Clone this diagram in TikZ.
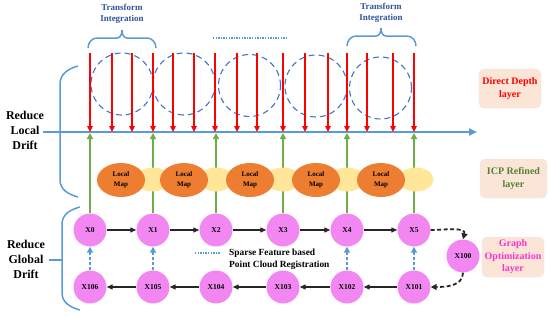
\documentclass[tikz,border=0pt]{standalone}
\usepackage{fontspec}
\setmainfont{Liberation Serif}
\usetikzlibrary{arrows.meta,shapes.geometric,calc}
\definecolor{bluel}{RGB}{91,155,213}
\definecolor{bluec}{RGB}{68,114,196}
\definecolor{titleblue}{RGB}{47,85,151}
\definecolor{redl}{RGB}{255,0,0}
\definecolor{greenl}{RGB}{112,173,71}
\definecolor{orangem}{RGB}{237,125,49}
\definecolor{yellowm}{RGB}{255,230,153}
\definecolor{nodepink}{RGB}{242,135,242}
\definecolor{boxfill}{RGB}{251,229,214}
\definecolor{icpgreen}{RGB}{84,130,53}
\definecolor{graphpink}{RGB}{255,51,204}
\tikzset{
  axisline/.style={draw=bluel,line width=2pt,-{Triangle[length=8pt,width=7pt]}},
  redarr/.style={draw=redl,line width=1.5pt,-{Triangle[length=6pt,width=5.5pt]}},
  greenarr/.style={draw=greenl,line width=2pt,-{Triangle[length=6pt,width=6pt]}},
  dcirc/.style={circle,draw=bluec,line width=1.1pt,dash pattern=on 6pt off 4pt,minimum size=62pt,inner sep=0pt},
  ybub/.style={ellipse,fill=yellowm,minimum width=35pt,minimum height=24pt,inner sep=0pt},
  lmap/.style={ellipse,fill=orangem,minimum width=48pt,minimum height=34pt,inner sep=0pt,align=center,font=\fontsize{7}{10}\selectfont\bfseries},
  xnode/.style={circle,fill=nodepink,minimum size=33pt,inner sep=0pt,font=\fontsize{7.5}{9}\selectfont\bfseries},
  blk/.style={draw=black!85,line width=1.3pt,-{Triangle[length=6pt,width=5pt]}},
  dblk/.style={draw=black!85,line width=1.8pt,dash pattern=on 4pt off 2.5pt,-{Triangle[length=6pt,width=6pt]}},
  bdash/.style={draw=bluel,line width=1.5pt,dash pattern=on 3pt off 2pt,-{Triangle[length=6pt,width=6pt]}},
  bracket/.style={draw=bluel,line width=1.5pt},
  layerbox/.style={rectangle,rounded corners=5pt,fill=boxfill,draw=black!8,align=center,inner sep=0pt,font=\fontsize{10}{12.5}\selectfont\bfseries},
  sidetext/.style={align=center,font=\fontsize{12}{15}\selectfont\bfseries},
  titletext/.style={align=center,text=titleblue,font=\fontsize{9}{11}\selectfont\bfseries},
}
\begin{document}
\begin{tikzpicture}[x=1pt,y=-1pt]
\useasboundingbox (0,0) rectangle (550,316);

% top titles and braces
\node[titletext] (t1) at (122,14) {Transform\\Integration};
\node[titletext] (t2) at (381,12.5) {Transform\\Integration};
\draw[bracket] (88,48) to[out=90,in=180] (97,38) -- (117,38) to[out=0,in=-90] (122,30)
               to[out=-90,in=180] (127,38) -- (147,38) to[out=0,in=90] (156,48);
\draw[bracket] (347,46) to[out=90,in=180] (356,36) -- (376,36) to[out=0,in=-90] (381,28)
               to[out=-90,in=180] (386,36) -- (407,36) to[out=0,in=90] (416,46);
\coordinate (dl1) at (213,38);
\coordinate (dl2) at (288,38);
\draw[draw=bluel,line width=1.3pt,dash pattern=on 1.3pt off 1.3pt] (dl1) -- (dl2);

% dashed circles
\node[dcirc] (c1) at (122,84) {};
\node[dcirc] (c2) at (184,84) {};
\node[dcirc] (c3) at (249.5,85.5) {};
\node[dcirc] (c4) at (316,86) {};
\node[dcirc] (c5) at (380.5,88) {};

% axis
\coordinate (axL) at (43,132);
\coordinate (axR) at (477,132);
\draw[axisline] (axL) -- (axR);

% red arrows
\foreach \x [count=\i] in {90,112,132,153,173,194,215,237,257,283,305,328,347,367,393,414} {
  \coordinate (rt\i) at (\x,53);
  \coordinate (rb\i) at (\x,132);
  \draw[redarr] (rt\i) -- (rb\i);
}

% X nodes
\node[xnode] (X0) at (90,230) {X0};
\node[xnode] (X1) at (153,230) {X1};
\node[xnode] (X2) at (216,230) {X2};
\node[xnode] (X3) at (283,230) {X3};
\node[xnode] (X4) at (347,230) {X4};
\node[xnode] (X5) at (414,230) {X5};
\node[xnode] (X106) at (90,287) {X106};
\node[xnode] (X105) at (153,287) {X105};
\node[xnode] (X104) at (216,287) {X104};
\node[xnode] (X103) at (283,287) {X103};
\node[xnode] (X102) at (347,287) {X102};
\node[xnode] (X101) at (414,287) {X101};
\node[xnode] (X100) at (463,256) {X100};

% green arrows
\foreach \n in {X0,X1,X2,X3,X4,X5} {
  \coordinate (g\n) at ($(\n.north)+(0,-0.5)$);
  \coordinate (ga\n) at (g\n |- axL);
  \draw[greenarr] (g\n) -- ($(ga\n)+(0,1)$);
}

% yellow and orange ellipses
\node[ybub] (y1) at (153,179.5) {};
\node[ybub] (y2) at (216,179.5) {};
\node[ybub] (y3) at (283,179.5) {};
\node[ybub] (y4) at (347,179.5) {};
\node[ybub] (y5) at (416,179.5) {};
\node[lmap] (m1) at (121,180) {Local\\Map};
\node[lmap] (m2) at (184,180) {Local\\Map};
\node[lmap] (m3) at (250,180) {Local\\Map};
\node[lmap] (m4) at (316,180) {Local\\Map};
\node[lmap] (m5) at (381,180) {Local\\Map};

% graph edges
\draw[blk] (X0) -- (X1);
\draw[blk] (X1) -- (X2);
\draw[blk] (X2) -- (X3);
\draw[blk] (X3) -- (X4);
\draw[blk] (X4) -- (X5);
\draw[blk] (X101) -- (X102);
\draw[blk] (X102) -- (X103);
\draw[blk] (X103) -- (X104);
\draw[blk] (X104) -- (X105);
\draw[blk] (X105) -- (X106);
\draw[dblk] (X5.east) to[out=0,in=75] (X100.north);
\draw[dblk] (X100.south) to[out=-90,in=0] (X101.east);
\draw[bdash] (X106) -- (X0);
\draw[bdash] (X105) -- (X1);
\draw[bdash] (X102) -- (X4);
\draw[bdash] (X101) -- (X5);

% legend
\coordinate (lg1) at (195,253);
\coordinate (lg2) at (221,253);
\draw[draw=bluel,line width=1.3pt,dash pattern=on 1.3pt off 1.3pt] (lg1) -- (lg2);
\node[anchor=west,align=left,inner sep=0pt,font=\fontsize{9.4}{12}\selectfont\bfseries] (leg) at (229,259.5) {Sparse Feature based\\Point Cloud Registration};

% left brackets and texts
\node[sidetext] (loc) at (25,130) {Reduce\\Local\\Drift};
\node[sidetext] (glo) at (26,259) {Reduce\\Global\\Drift};
\draw[bracket] (78,66) to[out=195,in=90] (60,84) -- (60,180) to[out=-90,in=165] (78,197);
\draw[bracket] (80,207) to[out=195,in=90] (62,224) -- (62,293) to[out=-90,in=165] (80,310);
\coordinate (gb) at (62,260);
\draw[bracket] (glo.east |- gb) -- (gb);

% layer boxes
\node[layerbox,minimum width=62pt,minimum height=39pt,text=redl] (b1) at (510,88.5) {Direct Depth\\layer};
\node[layerbox,minimum width=67pt,minimum height=39pt,text=icpgreen] (b2) at (513.5,178.5) {ICP Refined\\layer};
\node[layerbox,minimum width=62pt,minimum height=40pt,text=graphpink] (b3) at (513,257) {Graph\\Optimization\\layer};
\end{tikzpicture}
\end{document}
